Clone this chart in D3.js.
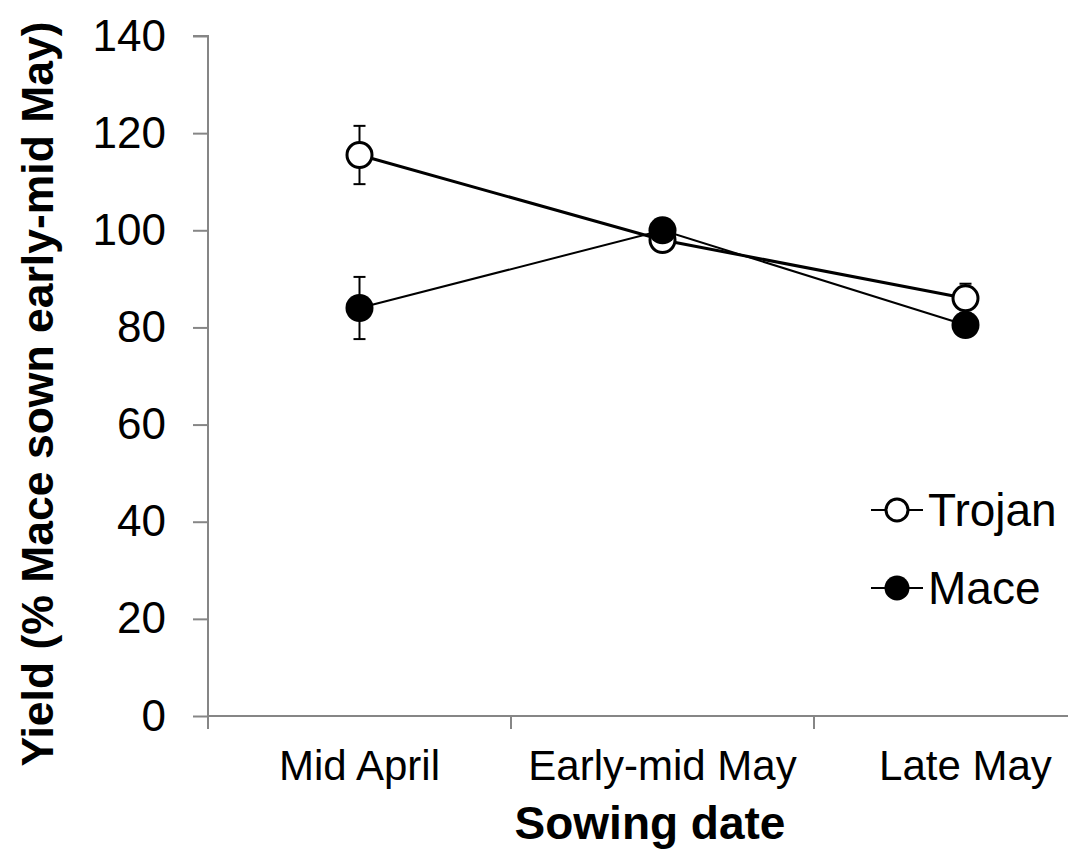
<!DOCTYPE html>
<html><head><meta charset="utf-8">
<script src="https://cdn.jsdelivr.net/npm/d3@7"></script>
<style>body{margin:0;background:#fff}svg{display:block}text{font-family:"Liberation Sans",Arial,sans-serif}</style>
</head><body>
<svg id="c" width="1068" height="851"></svg>
<script>
const categories = ["Mid April", "Early-mid May", "Late May"];
const trojanValues = [115.5, 98, 86];
const trojanErrors = [6, 0, 3];
const maceValues = [84, 100, 80.5];
const maceErrors = [6.4, 0, 0];
const yTicks = [0, 20, 40, 60, 80, 100, 120, 140];
const seriesNames = ["Trojan", "Mace"];

const svg = d3.select("#c");
const x = d3.scaleBand().domain(categories).range([208, 1117]);
const y = d3.scaleLinear().domain([0, 140]).range([716, 36]);
const axisColor = "#868686";

// y axis
const ya = svg.append("g").attr("transform", "translate(208,0)")
  .call(d3.axisLeft(y).tickValues(yTicks).tickSize(15).tickPadding(27));
ya.select(".domain").attr("stroke", axisColor).attr("stroke-width", 2).attr("d", `M-15,${y(140)}H0V${y(0)}`);
ya.selectAll(".tick line").attr("stroke", axisColor).attr("stroke-width", 2);
ya.selectAll(".tick text").attr("font-size", 44).attr("fill", "#000")
  .attr("font-family", '"Liberation Sans",Arial,sans-serif');

// x axis
const xa = svg.append("g").attr("transform", `translate(0,${y(0)})`);
xa.append("line").attr("x1", 208).attr("x2", 1117).attr("y1", 0).attr("y2", 0)
  .attr("stroke", axisColor).attr("stroke-width", 2);
const boundaries = categories.map(c => x(c));
xa.selectAll("line.t").data(boundaries).enter().append("line").attr("class", "t")
  .attr("x1", d => d).attr("x2", d => d).attr("y1", 0).attr("y2", 13)
  .attr("stroke", axisColor).attr("stroke-width", 2);
xa.selectAll("text").data(categories).enter().append("text")
  .attr("x", d => x(d) + x.bandwidth() / 2).attr("y", 64)
  .attr("text-anchor", "middle").attr("font-size", 42).text(d => d);

// axis titles
svg.append("text").attr("x", 650).attr("y", 839).attr("text-anchor", "middle")
  .attr("font-size", 46).attr("font-weight", "bold").text("Sowing date");
svg.append("text").attr("transform", "translate(53,394) rotate(-90)")
  .attr("text-anchor", "middle").attr("font-size", 44.5).attr("font-weight", "bold")
  .text("Yield (% Mace sown early-mid May)");

const cx = c => x(c) + x.bandwidth() / 2;
const line = d3.line().x(d => cx(d.c)).y(d => y(d.v));

function drawSeries(vals, errs, lw) {
  const data = categories.map((c, i) => ({ c, v: vals[i], e: errs[i] }));
  const g = svg.append("g");
  data.filter(d => d.e > 0).forEach(d => {
    const X = cx(d.c);
    g.append("line").attr("x1", X).attr("x2", X).attr("y1", y(d.v + d.e)).attr("y2", y(d.v - d.e)).attr("stroke", "#000").attr("stroke-width", 2);
    [d.v + d.e, d.v - d.e].forEach(v => g.append("line").attr("x1", X - 6).attr("x2", X + 6)
      .attr("y1", y(v)).attr("y2", y(v)).attr("stroke", "#000").attr("stroke-width", 2));
  });
  g.append("path").datum(data).attr("d", line).attr("fill", "none").attr("stroke", "#000").attr("stroke-width", lw);
  return { g, data };
}
const t = drawSeries(trojanValues, trojanErrors, 3);
const m = drawSeries(maceValues, maceErrors, 2);
t.g.selectAll("circle").data(t.data).enter().append("circle")
  .attr("cx", d => cx(d.c)).attr("cy", d => y(d.v)).attr("r", 12.5)
  .attr("fill", "#fff").attr("stroke", "#000").attr("stroke-width", 3);
svg.append("g").selectAll("circle").data(m.data).enter().append("circle")
  .attr("cx", d => cx(d.c)).attr("cy", d => y(d.v)).attr("r", 14)
  .attr("fill", "#000");

// legend
const legY = [510, 588];
seriesNames.forEach((n, i) => {
  const g = svg.append("g");
  g.append("line").attr("x1", 871).attr("x2", 923).attr("y1", legY[i]).attr("y2", legY[i]).attr("stroke", "#000").attr("stroke-width", 2);
  if (i === 0) g.append("circle").attr("cx", 897).attr("cy", legY[i]).attr("r", 11).attr("fill", "#fff").attr("stroke", "#000").attr("stroke-width", 3);
  else g.append("circle").attr("cx", 897).attr("cy", legY[i]).attr("r", 12.5).attr("fill", "#000");
  g.append("text").attr("x", 928).attr("y", legY[i] + 16).attr("font-size", 46).text(n);
});
</script>
</body></html>
